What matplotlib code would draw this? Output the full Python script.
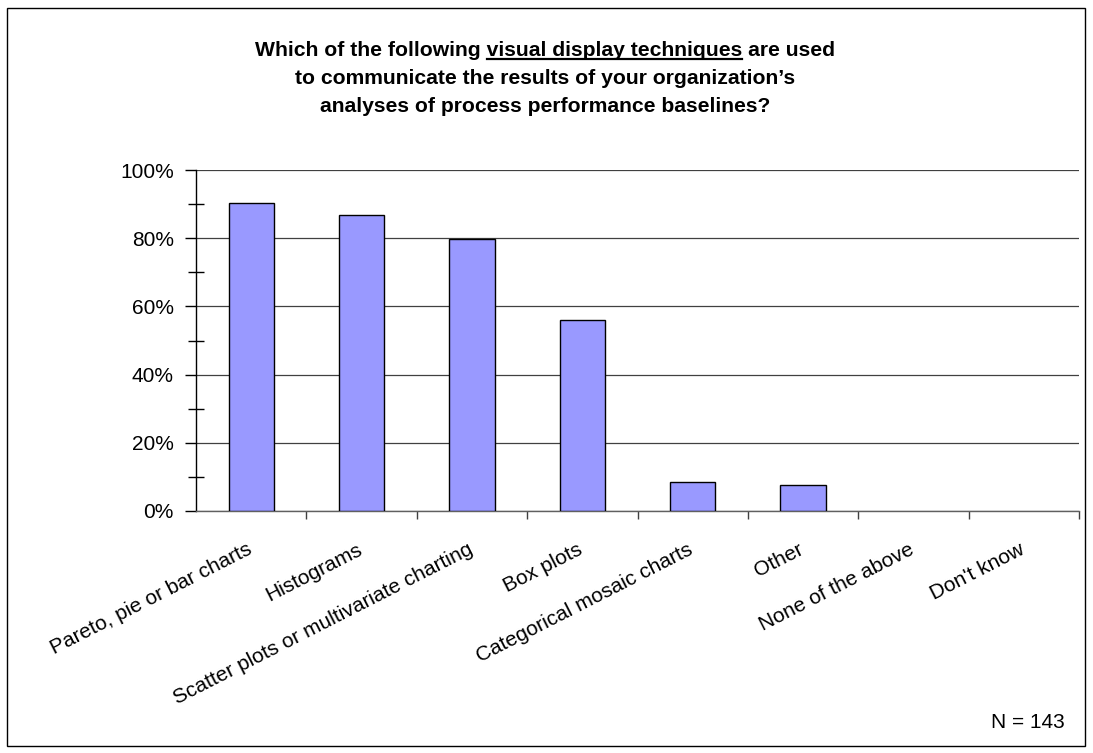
import matplotlib
matplotlib.use("Agg")
import matplotlib.pyplot as plt
from matplotlib.ticker import MultipleLocator, FuncFormatter
from matplotlib.lines import Line2D
from matplotlib.patches import Rectangle
from matplotlib.transforms import offset_copy, blended_transform_factory

categories = [
    "Pareto, pie or bar charts",
    "Histograms",
    "Scatter plots or multivariate charting",
    "Box plots",
    "Categorical mosaic charts",
    "Other",
    "None of the above",
    "Don't know",
]
percent_used = [90.2, 86.7, 79.7, 55.9, 8.4, 7.7, 0.0, 0.0]
y_ticks = [0, 20, 40, 60, 80, 100]
sample_note = "N = 143"

title_lines = [
    ("Which of the following ", "visual display techniques", " are used"),
    "to communicate the results of your organization\u2019s",
    "analyses of process performance baselines?",
]

plt.rcParams["font.family"] = ["Liberation Sans", "DejaVu Sans"]

W, H = 1093, 753
fig = plt.figure(figsize=(W / 100, H / 100), dpi=100)
fig.patch.set_facecolor("white")

# outer frame around the whole chart
fig.add_artist(Rectangle((7 / W, 7 / H), (W - 15) / W, (H - 15) / H,
                         transform=fig.transFigure, fill=False,
                         edgecolor="black", linewidth=1.0))

ax = fig.add_axes([196 / W, (H - 511) / H, (1079 - 196) / W, (511 - 170) / H])
x = list(range(len(categories)))
ax.bar(x, percent_used, width=0.41, color="#9999FF", edgecolor="black",
       linewidth=[1.0 if v > 0 else 0.0 for v in percent_used], zorder=3)

ax.set_xlim(-0.5, len(categories) - 0.5)
ax.set_ylim(0, 100)
ax.set_yticks(y_ticks)
ax.yaxis.set_major_formatter(FuncFormatter(lambda v, p: f"{v:.0f}%"))
ax.yaxis.set_minor_locator(MultipleLocator(10))
ax.tick_params(axis="y", which="major", direction="out", length=8, width=1,
               labelsize=15, pad=8)
ax.tick_params(axis="y", which="minor", direction="inout", length=11, width=1)
ax.yaxis.grid(True, which="major", color="#404040", linewidth=0.9, zorder=0)

# category boundaries carry the x ticks
ax.set_xticks([i + 0.5 for i in range(len(categories))])
ax.set_xticklabels([])
ax.tick_params(axis="x", which="major", direction="out", length=6, width=1,
               color="#404040")

# slanted category names hanging below each bar
label_tf = offset_copy(blended_transform_factory(ax.transData, ax.transAxes),
                       fig=fig, x=-5, y=-29, units="dots")
for i, name in zip(x, categories):
    ax.text(i, 0, name, transform=label_tf, rotation=27, ha="right",
            va="top", rotation_mode="anchor", fontsize=15, clip_on=False)

for side in ("top", "right"):
    ax.spines[side].set_visible(False)
ax.spines["left"].set_linewidth(1.0)
ax.spines["bottom"].set_color("#606060")
ax.spines["bottom"].set_linewidth(1.0)

# title, with the key phrase underlined
cx = 545
line_y = [56, 84, 112]
fs = 15.2
pre, mid, post = title_lines[0]
t0 = fig.text(cx / W, 1 - line_y[0] / H, pre + mid + post, ha="center",
              va="baseline", fontsize=fs, fontweight="bold")
for txt, yy in zip(title_lines[1:], line_y[1:]):
    fig.text(cx / W, 1 - yy / H, txt, ha="center", va="baseline",
             fontsize=fs, fontweight="bold")

fig.canvas.draw()
r = fig.canvas.get_renderer()
full = t0.get_window_extent(r)


def text_width(s):
    t = fig.text(0, 0, s, fontsize=fs, fontweight="bold")
    w = t.get_window_extent(r).width
    t.remove()
    return w


x_start = full.x0 + text_width(pre.rstrip()) + (text_width("a a") - text_width("aa"))
x_end = x_start + text_width(mid)
base = H - line_y[0] - 3
fig.add_artist(Line2D([x_start / W, x_end / W], [base / H, base / H],
                      transform=fig.transFigure, color="black", linewidth=1.6))

fig.text(1065 / W, 1 - 728 / H, sample_note, ha="right", va="baseline",
         fontsize=15)

fig.savefig("out.png", dpi=100, facecolor="white")
